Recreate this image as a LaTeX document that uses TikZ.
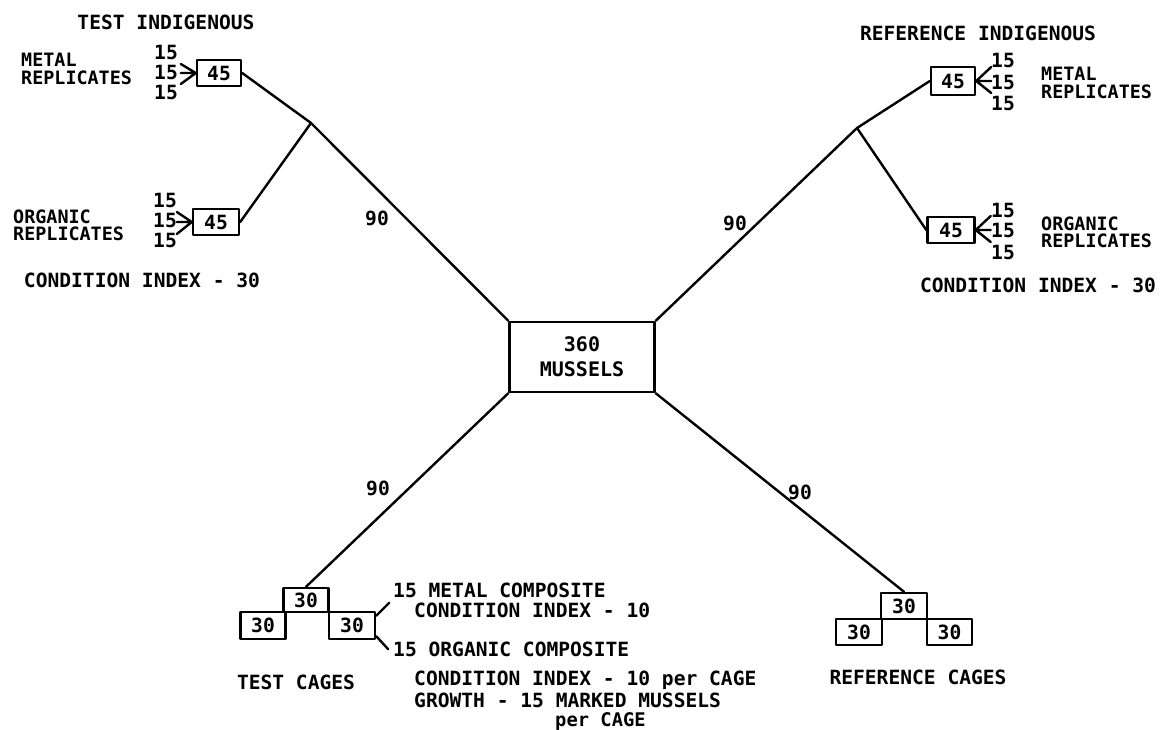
\documentclass[tikz,border=0pt]{standalone}
\usepackage{fontspec}
\setmonofont{DejaVu Sans Mono}
\usetikzlibrary{positioning}

\begin{document}
\begin{tikzpicture}[x=0.5pt,y=-0.5pt,line join=round,line cap=round,line width=1.2pt,
  font=\ttfamily\bfseries\fontsize{9.8}{7.6}\selectfont,
  box/.style={draw,line width=1.2pt,inner sep=0pt,minimum width=22pt,minimum height=13pt},
  lab/.style={align=left,anchor=west,inner sep=0pt},
  replab/.style={lab,font=\ttfamily\bfseries\fontsize{9.2}{8.6}\selectfont}]
  \useasboundingbox (0,0) rectangle (1160,729);

  \node[box,minimum width=72.5pt,minimum height=35pt,align=center,
        font=\ttfamily\bfseries\fontsize{10}{12.5}\selectfont] (mus) at (582,357) {360\\MUSSELS};

  % Test indigenous
  \node (ttitle) at (166,22) {TEST INDIGENOUS};
  \coordinate (tj) at (311,123);
  \node[box] (tmet) at (219,73) {45};
  \node[box,minimum width=23pt] (torg) at (216,222) {45};
  \node[replab] (tmetlab) at (20,69) {METAL\\REPLICATES};
  \node[replab] (torglab) at (12,225) {ORGANIC\\REPLICATES};
  \foreach \y/\n in {52/a,72/b,92/c} \node (tmn\n) at (166,\y) {15};
  \foreach \y/\n in {200/a,220/b,240/c} \node (ton\n) at (165,\y) {15};
  \draw (tmet.west) -- ++(-15,-9) (tmet.west) -- ++(-15,0) (tmet.west) -- ++(-15,11);
  \draw (torg.west) -- ++(-15,-10) (torg.west) -- ++(-15,0) (torg.west) -- ++(-15,12);
  \node (tcond) at (142,280) {CONDITION INDEX - 30};
  \draw (mus.north west) -- (tj) -- (tmet.east);
  \draw (tj) -- (torg.east);
  \node (tnum) at (377,218) {90};

  % Reference indigenous
  \node (rtitle) at (978,33) {REFERENCE INDIGENOUS};
  \coordinate (rj) at (857,128);
  \node[box,minimum height=14pt] (rmet) at (953,81) {45};
  \node[box,minimum width=23.5pt] (rorg) at (951,230) {45};
  \node[replab] (rmetlab) at (1040,83) {METAL\\REPLICATES};
  \node[replab] (rorglab) at (1040,232) {ORGANIC\\REPLICATES};
  \foreach \y/\n in {60/a,82/b,103/c} \node (rmn\n) at (1003,\y) {15};
  \foreach \y/\n in {210/a,230/b,252/c} \node (ron\n) at (1003,\y) {15};
  \draw (rmet.east) -- ++(15,-14) (rmet.east) -- ++(15,0) (rmet.east) -- ++(15,12);
  \draw (rorg.east) -- ++(15,-14) (rorg.east) -- ++(15,0) (rorg.east) -- ++(15,12);
  \node (rcond) at (1038,285) {CONDITION INDEX - 30};
  \draw (mus.north east) -- (rj) -- (rmet.west);
  \draw (rj) -- (rorg.west);
  \node (rnum) at (735,223) {90};

  % Test cages
  \node[box,minimum width=22.5pt,minimum height=12pt] (tc1) at (306,600) {30};
  \node[box,minimum width=22.5pt,minimum height=13.5pt] (tc2) at (263,625.5) {30};
  \node[box,minimum width=23pt,minimum height=13.5pt] (tc3) at (352,625.5) {30};
  \draw (mus.south west) -- (tc1.north);
  \node (tcnum) at (378,488) {90};
  \draw ([yshift=-2.5pt]tc3.north east) -- ++(13,-13);
  \draw ([yshift=2pt]tc3.south east) -- ++(12,13);
  \node (tcages) at (296,682) {TEST CAGES};
  \node[lab] (tcl1) at (392,590) {15 METAL COMPOSITE};
  \node[lab] (tcl2) at (413,610) {CONDITION INDEX - 10};
  \node[lab] (tcl3) at (392,649) {15 ORGANIC COMPOSITE};
  \node[lab] (tcl4) at (413,680) {CONDITION INDEX - 10 per CAGE};
  \node[lab] (tcl5) at (413,700) {GROWTH - 15 MARKED MUSSELS};
  \node[lab,font=\ttfamily\bfseries\fontsize{9.4}{8}\selectfont] (tcl6) at (554,721) {per CAGE};

  % Reference cages
  \node[box,minimum width=23pt,minimum height=13pt] (rc1) at (904,606) {30};
  \node[box,minimum width=23pt,minimum height=13pt] (rc2) at (859,632) {30};
  \node[box,minimum width=22.5pt,minimum height=13pt] (rc3) at (949.5,632) {30};
  \draw (mus.south east) -- (rc1.north);
  \node (rcnum) at (800,492) {90};
  \node (rcages) at (918,677) {REFERENCE CAGES};
\end{tikzpicture}
\end{document}
